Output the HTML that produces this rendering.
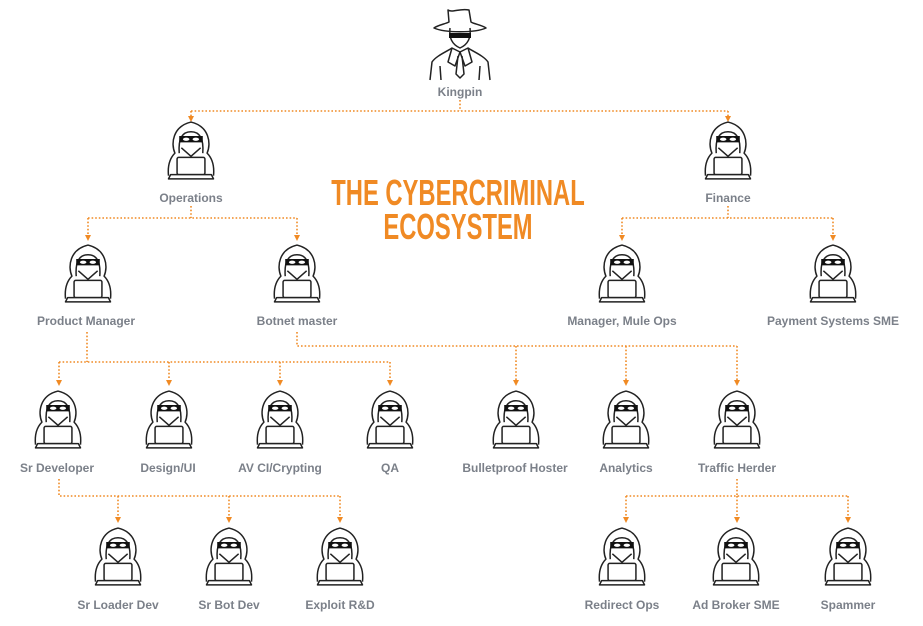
<!DOCTYPE html>
<html><head><meta charset="utf-8"><style>
body{margin:0;background:#fff;}
svg{display:block}
.l{font-family:"Liberation Sans",sans-serif;font-size:12px;fill:#7b8089;font-weight:bold;text-anchor:middle}
.c{stroke:#f08a24;stroke-width:1.6;stroke-dasharray:1.6 2;fill:none}
.t{font-family:"Liberation Sans Narrow","Liberation Sans",sans-serif;font-weight:bold;font-size:36px;fill:#f08a24;text-anchor:middle}
</style></head><body>
<svg width="923" height="626" viewBox="0 0 923 626" xmlns="http://www.w3.org/2000/svg">
<defs>
<symbol id="h" viewBox="-24 -1 48 56" overflow="visible">
<g fill="none" stroke="#222" stroke-width="1.4" stroke-linejoin="round">
<path d="M-21,50 C-22,40 -19,33 -15,29 C-19,20 -17,4 0,0 C17,4 19,20 15,29 C19,33 22,40 21,50"/>
<path d="M-11,29 C-12,15 -8,9 0,9 C8,9 12,15 11,29"/>
<path d="M-9,24 L0,32 L9,24"/>
<rect x="-13" y="33" width="26" height="16" rx="1.5" fill="#fff"/>
<path d="M-19,49 L19,49 L21,53 L-21,53 Z" fill="#fff"/>
</g>
<path d="M-11,13 L11,13 L11,19 L-11,19 Z" fill="#111"/>
<ellipse cx="-4.5" cy="16" rx="3" ry="1.5" fill="#fff"/>
<ellipse cx="4.5" cy="16" rx="3" ry="1.5" fill="#fff"/>
</symbol>
<marker id="a" markerWidth="6" markerHeight="6" refX="3" refY="3" orient="auto" markerUnits="userSpaceOnUse"><path d="M0,0 L6,3 L0,6Z" fill="#f08a24"/></marker>
</defs>

<!-- Kingpin -->
<g fill="none" stroke="#222" stroke-width="1.5" stroke-linejoin="round">
<path d="M434,28 C445,33 475,33 486,28 C482,25 474,24 471,22 L469,10 C460,8 452,13 448,10 L449,22 C445,24 438,25 434,28Z"/>
<path d="M450,28 C449,36 451,44 460,48 C469,44 471,36 470,28"/>
<path d="M430,80 L432,62 C436,56 446,52 452,48 L460,52 L468,48 C474,52 484,56 488,62 L490,80"/>
<path d="M452,48 L448,62 L455,66 L460,52 L465,66 L472,62 L468,48"/>
<path d="M458,56 L456,74 L460,78 L464,74 L462,56"/>
<path d="M440,66 L441,80 M480,66 L479,80"/>
</g>
<path d="M449,33 L471,33 L471,38 L449,38Z" fill="#111"/>
<text class="l" x="460" y="96">Kingpin</text>

<g transform="translate(458,0) scale(0.66,1)">
<text class="t" x="0" y="205">THE CYBERCRIMINAL</text>
<text class="t" x="0" y="239">ECOSYSTEM</text>
</g>

<!-- connectors -->
<path class="c" d="M460,100 V111 M191,111 H728"/>
<path class="c" d="M191,111 V119" marker-end="url(#a)"/>
<path class="c" d="M728,111 V119" marker-end="url(#a)"/>

<path class="c" d="M191,206 V218 M88,218 H297"/>
<path class="c" d="M88,218 V238" marker-end="url(#a)"/>
<path class="c" d="M297,218 V238" marker-end="url(#a)"/>

<path class="c" d="M728,206 V218 M622,218 H833"/>
<path class="c" d="M622,218 V238" marker-end="url(#a)"/>
<path class="c" d="M833,218 V238" marker-end="url(#a)"/>

<path class="c" d="M87,332 V362 M59,362 H390"/>
<path class="c" d="M59,362 V383" marker-end="url(#a)"/>
<path class="c" d="M169,362 V383" marker-end="url(#a)"/>
<path class="c" d="M280,362 V383" marker-end="url(#a)"/>
<path class="c" d="M390,362 V383" marker-end="url(#a)"/>

<path class="c" d="M297,332 V346 H737"/>
<path class="c" d="M516,346 V383" marker-end="url(#a)"/>
<path class="c" d="M626,346 V383" marker-end="url(#a)"/>
<path class="c" d="M737,346 V383" marker-end="url(#a)"/>

<path class="c" d="M59,479 V496 H340"/>
<path class="c" d="M118,496 V520" marker-end="url(#a)"/>
<path class="c" d="M229,496 V520" marker-end="url(#a)"/>
<path class="c" d="M340,496 V520" marker-end="url(#a)"/>

<path class="c" d="M737,479 V496 M626,496 H848"/>
<path class="c" d="M626,496 V520" marker-end="url(#a)"/>
<path class="c" d="M737,496 V520" marker-end="url(#a)"/>
<path class="c" d="M848,496 V520" marker-end="url(#a)"/>

<!-- nodes -->
<use href="#h" x="165" y="121" width="52" height="60"/><text class="l" x="191" y="202">Operations</text>
<use href="#h" x="702" y="121" width="52" height="60"/><text class="l" x="728" y="202">Finance</text>

<use href="#h" x="62" y="244" width="52" height="60"/><text class="l" x="86" y="325">Product Manager</text>
<use href="#h" x="271" y="244" width="52" height="60"/><text class="l" x="297" y="325">Botnet master</text>
<use href="#h" x="596" y="244" width="52" height="60"/><text class="l" x="622" y="325">Manager, Mule Ops</text>
<use href="#h" x="807" y="244" width="52" height="60"/><text class="l" x="833" y="325">Payment Systems SME</text>

<use href="#h" x="32" y="390" width="52" height="60"/><text class="l" x="57" y="472">Sr Developer</text>
<use href="#h" x="143" y="390" width="52" height="60"/><text class="l" x="168" y="472">Design/UI</text>
<use href="#h" x="254" y="390" width="52" height="60"/><text class="l" x="280" y="472">AV CI/Crypting</text>
<use href="#h" x="364" y="390" width="52" height="60"/><text class="l" x="390" y="472">QA</text>
<use href="#h" x="490" y="390" width="52" height="60"/><text class="l" x="515" y="472">Bulletproof Hoster</text>
<use href="#h" x="600" y="390" width="52" height="60"/><text class="l" x="626" y="472">Analytics</text>
<use href="#h" x="711" y="390" width="52" height="60"/><text class="l" x="737" y="472">Traffic Herder</text>

<use href="#h" x="92" y="527" width="52" height="60"/><text class="l" x="118" y="609">Sr Loader Dev</text>
<use href="#h" x="203" y="527" width="52" height="60"/><text class="l" x="229" y="609">Sr Bot Dev</text>
<use href="#h" x="314" y="527" width="52" height="60"/><text class="l" x="340" y="609">Exploit R&amp;D</text>
<use href="#h" x="596" y="527" width="52" height="60"/><text class="l" x="622" y="609">Redirect Ops</text>
<use href="#h" x="710" y="527" width="52" height="60"/><text class="l" x="736" y="609">Ad Broker SME</text>
<use href="#h" x="822" y="527" width="52" height="60"/><text class="l" x="848" y="609">Spammer</text>
</svg>
</body></html>
